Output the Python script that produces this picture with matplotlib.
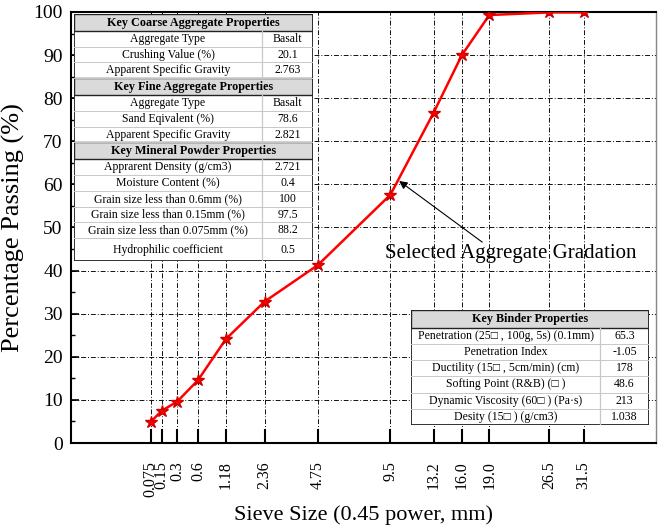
import numpy as np
import matplotlib
matplotlib.use('Agg')
from matplotlib import pyplot as plt
from matplotlib.patches import Rectangle
from matplotlib.ticker import MultipleLocator

plt.rcParams['font.family'] = ['Liberation Serif', 'DejaVu Sans']

# gradation data
sieve_sizes = [0.075, 0.15, 0.3, 0.6, 1.18, 2.36, 4.75, 9.5, 13.2, 16.0, 19.0, 26.5, 31.5]
sieve_labels = ['0.075', '0.15', '0.3', '0.6', '1.18', '2.36', '4.75',
                '9.5', '13.2', '16.0', '19.0', '26.5', '31.5']
passing = [4.9, 7.5, 9.6, 14.6, 24.1, 32.8, 41.3, 57.6, 76.6, 90.0, 99.3, 99.9, 99.9]

# property tables
coarse_rows = [('Aggregate Type', 'Basalt'),
               ('Crushing Value (%)', '20.1'),
               ('Apparent Specific Gravity', '2.763')]
fine_rows = [('Aggregate Type', 'Basalt'),
             ('Sand Eqivalent (%)', '78.6'),
             ('Apparent Specific Gravity', '2.821')]
powder_rows = [('Apprarent Density (g/cm3)', '2.721'),
               ('Moisture Content (%)', '0.4'),
               ('Grain size less than 0.6mm (%)', '100'),
               ('Grain size less than 0.15mm (%)', '97.5'),
               ('Grain size less than 0.075mm (%)', '88.2'),
               ('Hydrophilic coefficient', '0.5')]
binder_rows = [('Penetration (25\u25a1 , 100g, 5s) (0.1mm)', '65.3'),
               ('Penetration Index', '-1.05'),
               ('Ductility (15\u25a1 , 5cm/min) (cm)', '178'),
               ('Softing Point (R&B) (\u25a1 )', '48.6'),
               ('Dynamic Viscosity (60\u25a1 ) (Pa\u00b7s)', '213'),
               ('Desity (15\u25a1 ) (g/cm3)', '1.038')]

W, H = 659, 529


def draw_table(fig, box, sections, split, last_weight=1.0, fs=8.5):
    # box in pixels: left, top, right, bottom (y measured from top)
    x0, y0, x1, y1 = box
    tax = fig.add_axes([x0 / W, 1 - y1 / H, (x1 - x0) / W, (y1 - y0) / H], zorder=5)
    tax.set_xlim(x0, x1)
    tax.set_ylim(y1, y0)
    tax.axis('off')
    rows = []
    for title, items in sections:
        rows.append(('head', title, None, 1.08))
        for a, b in items:
            rows.append(('body', a, b, 1.0))
    k, a, b, _ = rows[-1]
    rows[-1] = (k, a, b, last_weight)
    unit = (y1 - y0) / sum(r[3] for r in rows)
    tax.add_patch(Rectangle((x0, y0), x1 - x0, y1 - y0, fc='white', ec='none'))
    y = y0
    for kind, a, b, w in rows:
        h = unit * w
        if kind == 'head':
            tax.add_patch(Rectangle((x0, y), x1 - x0, h, fc='#dadada', ec='#222222', lw=1.0))
            tax.text((x0 + x1) / 2, y + h / 2, a, ha='center', va='center',
                     fontsize=fs + 0.2, fontweight='bold')
        else:
            tax.plot([x0, x1], [y + h, y + h], color='#c8c8c8', lw=0.7)
            tax.plot([split, split], [y, y + h], color='#c8c8c8', lw=0.9)
            tax.text((x0 + split) / 2, y + h / 2, a, ha='center', va='center', fontsize=fs)
            tax.text((split + x1) / 2, y + h / 2, b, ha='center', va='center', fontsize=fs)
        y += h
    tax.add_patch(Rectangle((x0, y0), x1 - x0, y1 - y0, fc='none', ec='#222222', lw=1.3))


fig = plt.figure(figsize=(W / 100, H / 100), dpi=100)
ax = fig.add_axes([71 / W, 86 / H, 585 / W, 431 / H])

x = np.array(sieve_sizes) ** 0.45
ax.plot(x, passing, color='red', lw=1.8, marker='*', ms=9,
        mfc='red', mec='#d00000', zorder=3)

ax.set_xlim(-0.50, 5.46)
ax.set_ylim(0, 100)
ax.set_xticks(x)
ax.set_xticklabels(sieve_labels, rotation=90, fontsize=11.5)
ax.yaxis.set_major_locator(MultipleLocator(10))
ax.yaxis.set_minor_locator(MultipleLocator(5))
ax.tick_params(axis='y', labelsize=14, direction='in', length=6, width=1.2, pad=6)
ax.tick_params(axis='y', which='minor', direction='in', length=3, width=1.0)
ax.tick_params(axis='x', direction='in', length=10, width=1.5, pad=13)
ax.grid(True, which='major', color='#111111', lw=0.7, dashes=(5, 2, 1, 2))
for s in ['left', 'bottom', 'top']:
    ax.spines[s].set_linewidth(1.5)
ax.spines['right'].set_linewidth(1.0)
ax.spines['right'].set_color('#888888')

ax.set_xlabel('Sieve Size (0.45 power, mm)', fontsize=16, labelpad=6)
ax.set_ylabel('Percentage Passing (%)', fontsize=19, labelpad=6)

ax.text(3.98, 44.0, 'Selected Aggregate Gradation', fontsize=15, ha='center', va='center')
ax.annotate('', xy=(2.843, 60.8), xytext=(3.69, 46.6),
            arrowprops=dict(arrowstyle='-|>', color='black', lw=0.8,
                            mutation_scale=12, shrinkA=0, shrinkB=0))

draw_table(fig, (74, 14, 313, 261),
           [('Key Coarse Aggregate Properties', coarse_rows),
            ('Key Fine Aggregate Properties', fine_rows),
            ('Key Mineral Powder Properties', powder_rows)],
           split=262, last_weight=1.45)
draw_table(fig, (411, 310, 649, 425),
           [('Key Binder Properties', binder_rows)],
           split=600, last_weight=1.0)

fig.savefig('out.png', dpi=100)
